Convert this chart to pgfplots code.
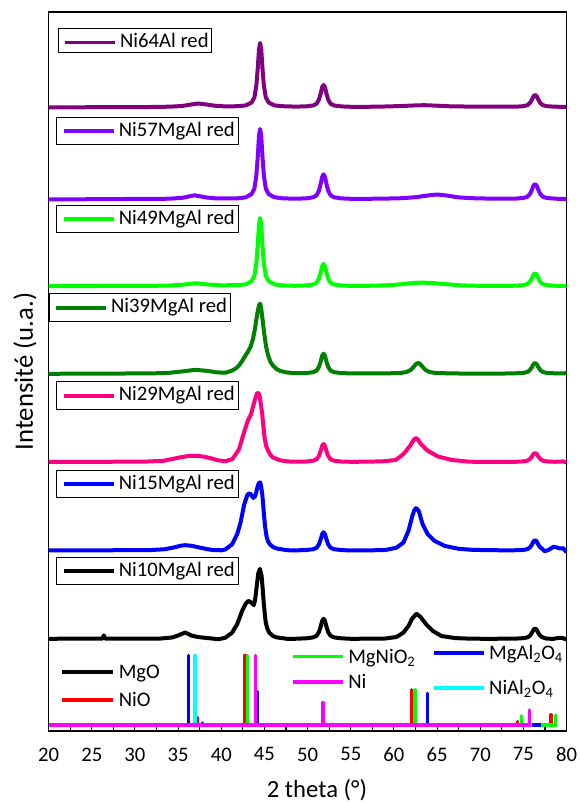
\documentclass[border=0pt]{standalone}
\usepackage{fontspec}
\setmainfont{Carlito}
\usepackage{pgfplots}
\pgfplotsset{compat=1.18}
\definecolor{cpurple}{RGB}{128,0,128}
\definecolor{cviolet}{RGB}{128,0,255}
\definecolor{clime}{RGB}{0,255,0}
\definecolor{cdgreen}{RGB}{0,128,0}
\definecolor{cpink}{RGB}{255,0,128}
\definecolor{cblue}{RGB}{0,0,255}
\definecolor{cred}{RGB}{255,0,0}
\definecolor{cmag}{RGB}{255,0,255}
\definecolor{ccyan}{RGB}{0,255,255}
\newcommand{\fs}{\fontsize{15.5}{18}\selectfont}
\newcommand{\lbox}[3]{\node[draw=black, line width=0.7pt, fill=white, anchor=north west, inner xsep=2.5pt, inner ysep=3.5pt, font=\fs] at (axis cs:#1) {\hspace{3pt}\textcolor{#2}{\rule[2.5pt]{37.5pt}{2.8pt}}\hspace{3.5pt}#3};}
\begin{document}
\begin{tikzpicture}
\begin{axis}[
  scale only axis, width=388.5pt, height=539.25pt,
  xmin=20, xmax=80, ymin=0, ymax=719,
  xtick={20,25,...,80}, minor x tick num=1,
  xtick pos=left, ytick=\empty,
  tick align=inside, major tick length=5pt, minor tick length=3pt,
  axis line style={line width=0.8pt}, every tick/.style={black, line width=0.8pt},
  /pgf/number format/assume math mode=true,
  ticklabel style={font=\fs}, xticklabel style={yshift=-9pt},
  xlabel={2 theta (°)}, ylabel={Intensité (u.a.)},
  xlabel style={font=\fontsize{18.5}{21}\selectfont, at={(axis description cs:0.5,0)}, anchor=center, yshift=-44.5pt, xshift=7pt},
  ylabel style={font=\fontsize{20}{23}\selectfont, at={(axis description cs:0,0.5)}, anchor=center, yshift=17.7pt},
  every axis plot/.append style={line width=3pt, line join=round},
]
% reference sticks
\addplot[black, line width=2.5pt] coordinates {(20,6)(42.73,6)(42.73,75.5)(42.73,6)(62.03,6)(62.03,41.1)(62.03,6)(74.3,6)(74.3,9.4)(74.3,6)(78.2,6)(78.2,16)(78.2,6)(78.4,6)};
\addplot[cred, line width=2.5pt] coordinates {(20,6)(37.25,6)(37.25,13.6)(37.25,6)(42.73,6)(42.73,75.5)(42.73,6)(62.03,6)(62.03,41.1)(62.03,6)(74.3,6)(74.3,9.4)(74.3,6)(78.2,6)(78.2,16)(78.2,6)(78.5,6)};
\addplot[clime, line width=2.5pt] coordinates {(20,6)(43.04,6)(43.04,75.5)(43.04,6)(62.43,6)(62.43,41.1)(62.43,6)(74.8,6)(74.8,15.3)(74.8,6)(78.7,6)(78.7,16)(78.7,6)(78.9,6)};
\addplot[cblue, line width=2.5pt] coordinates {(20,6)(36.2,6)(36.2,75.5)(36.2,6)(37.8,6)(37.8,8)(37.8,6)(44.2,6)(44.2,39.4)(44.2,6)(63.9,6)(63.9,37.7)(63.9,6)(77,6)};
\addplot[ccyan, line width=2.5pt] coordinates {(20,6)(36.96,6)(36.96,75.5)(36.96,6)(76,6)};
\addplot[cmag, line width=2.5pt] coordinates {(20,6)(43.96,6)(43.96,75.5)(43.96,6)(51.8,6)(51.8,28.4)(51.8,6)(75.7,6)(75.7,21.1)(75.7,6)(75.85,6)};
% Ni10MgAl
\addplot[black] coordinates {(20,92.2)(22,92.3)(24,92.3)(26,92.3)(26.25,92.5)(26.4,95.6)(26.55,92.5)(28,92.3)(31,92.3)(33,92.5)(34.3,93.5)(34.9,95.2)(35.4,97)(35.8,98.4)(36.2,97)(36.5,95.5)(37.3,94)(38.1,93.2)(39.7,91.8)(40.46,93.2)(41.26,98.4)(41.85,107)(42.45,120.8)(42.85,127.6)(43.13,130.1)(43.44,128.7)(43.76,125.9)(43.9,130)(44.04,139.7)(44.15,148)(44.27,156.9)(44.47,162.1)(44.67,155.2)(44.8,142)(44.91,129.4)(45.03,118)(45.15,108.7)(45.35,102)(45.55,98.4)(46.0,95)(46.42,93.6)(47.6,92.2)(48.5,92.2)
(49.83,92.7)(50.64,93.6)(51.04,95.2)(51.31,98.8)(51.51,104.2)(51.69,110.2)(51.85,112.2)(52.01,110.2)(52.19,104.2)(52.39,98.8)(52.66,95.2)(53.07,93.6)(53.88,92.7)
(55,92.2)(57,92.3)(59,92.5)(60.3,94)(61.1,98.4)(61.7,105.2)(62.1,112.2)(62.6,117.3)(63.1,113.9)(63.7,107)(64.5,100.1)(65.5,95)(67.1,92.9)(69,92.3)(71,92.2)(73,92.3)
(74.25,92.46)(75.09,92.9)(75.51,93.75)(75.79,95.6)(76.0,98.4)(76.18,101.5)(76.35,102.5)(76.52,101.5)(76.7,98.4)(76.91,95.6)(77.19,93.75)(77.7,92.3)(78.5,92.2)(79,93)(79.5,93)(80,91.5)};
% Ni15MgAl
\addplot[cblue] coordinates {(20,180.5)(23,180.6)(26,180.7)(29,180.8)(32,181)(33.5,181.8)(34.5,183.5)(35.3,185.3)(35.8,185.8)(36.5,185.3)(37.3,183.8)(38.1,182.3)(39,181)(40,180.7)(40.46,181.5)(41.26,186.7)(41.85,197)(42.25,209)(42.65,226.3)(43.04,236.6)(43.32,237.6)(43.55,235)(43.72,233.1)(43.9,234.5)(44.04,238.3)(44.2,244)(44.35,248)(44.51,248.6)(44.63,244)(44.75,236.6)(44.85,227)(44.95,216)(45.08,204)(45.23,195.3)(45.4,190)(45.63,186.7)(46.0,184)(46.42,182.5)(47.6,180.8)(48.5,180.6)
(49.83,180.95)(50.64,181.8)(51.04,183.2)(51.31,186.5)(51.51,191.4)(51.69,196.9)(51.85,198.7)(52.01,196.9)(52.19,191.4)(52.39,186.5)(52.66,183.2)(53.07,181.8)(53.88,180.95)
(55,180.5)(57,180.6)(59,181)(60.3,183.3)(61.1,188.4)(61.7,200.5)(62.1,214.2)(62.35,220.5)(62.55,222.8)(62.75,221.5)(62.9,219.4)(63.3,207.3)(63.9,197)(64.7,190.1)(65.9,185)(67.5,182.2)(69,181.2)(71,180.8)(73,180.7)
(74.25,180.76)(75.09,181.2)(75.51,182.05)(75.79,183.9)(76.0,186.7)(76.18,189.8)(76.35,190.8)(76.52,189.8)(76.7,186.7)(76.91,183.9)(77.19,182.05)(77.45,179.8)(77.9,181)(78.5,184.3)(78.9,183.5)(79.2,182.5)(79.6,182.8)(80,178.8)};
% Ni29MgAl
\addplot[cpink] coordinates {(20,269)(23,269.1)(26,269.2)(29,269.3)(31.5,269.5)(33.3,270.2)(34.2,271.8)(35.2,273.6)(36.2,275)(37.2,275.2)(38.1,274.2)(38.9,272.5)(39.6,270.7)(40.5,269.8)(41.3,272)(42.05,281.7)(42.65,299)(43.04,309.6)(43.44,316.5)(43.7,325)(43.95,333)(44.15,337.8)(44.3,338)(44.43,335.4)(44.6,326)(44.75,316.5)(44.9,303)(45.03,292.4)(45.2,285)(45.43,280.4)(45.7,276)(46.0,273.5)(46.8,270.7)(47.8,269.5)
(49.83,269.45)(50.64,270.3)(51.04,271.7)(51.31,274.9)(51.51,279.8)(51.69,285.2)(51.85,287)(52.01,285.2)(52.19,279.8)(52.39,274.9)(52.66,271.7)(53.07,270.3)(53.88,269.45)
(55,269.2)(57,269.3)(59,269.8)(60.2,271)(61.1,276.9)(61.9,285.5)(62.2,290)(62.5,293)(62.75,291.8)(63.1,287.2)(63.9,280.4)(65.1,274.5)(66.7,271)(68.7,269.3)(71,269)(73,269.2)
(74.1,269.2)(75.0,269.6)(75.45,270.35)(75.75,272)(75.98,274.4)(76.17,277.1)(76.35,278)(76.53,277.1)(76.73,274.4)(76.95,272)(77.25,270.35)(77.7,269.6)(78.6,269.2)(79.2,269.4)(79.6,269.6)(80,268.5)};
% Ni39MgAl
\addplot[cdgreen] coordinates {(20,357.2)(23,357.3)(26,357.4)(29,357.5)(32,357.6)(34,358.2)(35.5,359.6)(37,361.2)(38.5,360)(39.5,358.6)(40.5,358.3)(41.2,360.2)(41.7,362.6)(42.1,366)(42.45,370.5)(42.8,375.5)(43.1,379.5)(43.44,385)(43.7,393)(43.9,402)(44.1,413.5)(44.25,421)(44.4,426.5)(44.5,427.2)(44.6,424)(44.75,414)(44.9,403)(45.03,394)(45.2,384)(45.43,375.6)(45.7,369)(46.0,365.3)(46.4,362)(46.8,360.2)(47.5,358.6)(48.4,357.9)
(49.83,357.9)(50.64,358.8)(51.04,360.4)(51.31,364)(51.51,369.3)(51.69,375.3)(51.85,377.3)(52.01,375.3)(52.19,369.3)(52.39,364)(52.66,360.4)(53.07,358.8)(53.88,357.9)
(55,357.6)(57,357.6)(58.5,357.6)(59.5,357.7)(60.82,358.1)(61.48,359)(61.92,360.9)(62.25,363.8)(62.54,366.9)(62.8,368)(63.06,366.9)(63.35,363.8)(63.68,360.9)(64.12,359)(64.78,358.1)(66.1,357.7)(67.5,357.5)(69,357.4)(71,357.4)(73,357.5)
(74.1,357.7)(75.0,358.1)(75.45,359)(75.75,360.9)(75.98,363.8)(76.17,366.9)(76.35,368)(76.53,366.9)(76.73,363.8)(76.95,360.9)(77.25,359)(77.7,358.1)(78.6,357.7)(79.2,357.6)(80,357.8)};
% Ni49MgAl
\addplot[clime] coordinates {(20,444.8)(23,444.9)(26,445)(29,445)(32,445.1)(34,445.5)(35.5,446.3)(37,447.7)(38.5,446.5)(40,445.7)(41.5,445.8)(42.2,446.1)
(42.85,446.7)(43.51,449.8)(43.84,455.2)(44.06,467.4)(44.225,485.8)(44.368,506.2)(44.5,513)(44.632,506.2)(44.775,485.8)(44.94,467.4)(45.16,455.2)(45.49,449.8)(46.15,446.7)(47,445.6)(48.5,445.2)
(49.83,445.55)(50.64,446.5)(51.04,448.3)(51.31,452.3)(51.51,458.2)(51.69,464.8)(51.85,467)(52.01,464.8)(52.19,458.2)(52.39,452.3)(52.66,448.3)(53.07,446.5)(53.88,445.55)
(55,445.1)(57,445.2)(59,445.6)(60.5,446.5)(62,447.8)(63,448.4)(64.5,448)(66,446.8)(67.5,445.8)(69,445.3)(71,445.1)(73,445)
(74.1,445.3)(75.0,445.9)(75.45,446.9)(75.75,449.2)(75.98,452.6)(76.17,456.4)(76.35,457.7)(76.53,456.4)(76.73,452.6)(76.95,449.2)(77.25,446.9)(77.7,445.9)(78.6,445.3)(79.2,445.1)(80,445)};
% Ni57MgAl
\addplot[cviolet] coordinates {(20,531.5)(23,531.7)(26,531.8)(29,532)(32,532)(34,532.3)(35.5,533.2)(36.9,535.7)(38.3,533.5)(39.5,532.5)(41,532.5)(42.2,532.8)
(42.85,533.75)(43.51,536.9)(43.84,542.5)(44.06,555.1)(44.225,574)(44.368,595)(44.5,602)(44.632,595)(44.775,574)(44.94,555.1)(45.16,542.5)(45.49,536.9)(46.15,533.75)(47,532.7)(48.5,532.3)
(49.83,532.6)(50.64,533.7)(51.04,535.7)(51.31,540.2)(51.51,546.8)(51.69,554.2)(51.85,556.7)(52.01,554.2)(52.19,546.8)(52.39,540.2)(52.66,535.7)(53.07,533.7)(53.88,532.6)
(55,532.2)(57,532.2)(59,532.4)(61,532.8)(62.5,533.8)(64,535.6)(65,536.5)(66,535.6)(67.5,533.6)(69,532.8)(71,532.4)(73,532.3)
(74.1,532.4)(75.0,533.05)(75.45,534.25)(75.75,537)(75.98,541)(76.17,545.5)(76.35,547)(76.53,545.5)(76.73,541)(76.95,537)(77.25,534.25)(77.7,533.05)(78.6,532.4)(79.2,532.1)(80,532)};
% Ni64Al
\addplot[cpurple] coordinates {(20,623.5)(23,623.7)(26,623.8)(29,623.8)(32,624)(34,624.3)(35.5,625)(36.5,626.5)(37.3,627.5)(38.2,626.6)(39.3,625.2)(40.5,624.6)(42,624.8)
(42.85,625.6)(43.51,628.5)(43.84,633.6)(44.06,645.1)(44.225,662.4)(44.368,681.6)(44.5,688)(44.632,681.6)(44.775,662.4)(44.94,645.1)(45.16,633.6)(45.49,628.5)(46.15,625.6)(47,624.8)(48.5,624.4)
(49.83,624.6)(50.64,625.5)(51.04,627.3)(51.31,631.3)(51.51,637.2)(51.69,643.8)(51.85,646)(52.01,643.8)(52.19,637.2)(52.39,631.3)(52.66,627.3)(53.07,625.5)(53.88,624.6)
(55,624.2)(57,624.2)(59,624.5)(61,625)(62.5,625.6)(63.5,625.8)(65,625.3)(66.5,624.7)(68,624.5)(70,624.3)(72,624.3)
(74.1,624.3)(75.0,624.8)(75.45,625.8)(75.75,628)(75.98,631.2)(76.17,634.8)(76.35,636)(76.53,634.8)(76.73,631.2)(76.95,628)(77.25,625.8)(77.7,624.8)(78.6,624.3)(79.2,624.2)(80,624)};
% legend boxes
\lbox{21.05,702.7}{cpurple}{Ni64Al red}
\lbox{20.9,614}{cviolet}{Ni57MgAl red}
\lbox{20.9,526.2}{clime}{Ni49MgAl red}
\lbox{20.0,437.6}{cdgreen}{Ni39MgAl red}
\lbox{20.9,349.6}{cpink}{Ni29MgAl red}
\lbox{20.9,261.4}{cblue}{Ni15MgAl red}
\lbox{20.9,174}{black}{Ni10MgAl red}
% reference legend
\draw[black, line width=2.8pt] (axis cs:21.6,59.3) -- (axis cs:27.46,59.3);
\node[anchor=base west, inner sep=0pt, yshift=-5pt, font=\fs] at (axis cs:28.1,59.3) {MgO};
\draw[cred, line width=2.8pt] (axis cs:21.6,30.8) -- (axis cs:27.46,30.8);
\node[anchor=base west, inner sep=0pt, yshift=-5pt, font=\fs] at (axis cs:28.1,30.8) {NiO};
\draw[clime, line width=2.8pt] (axis cs:48.33,74.5) -- (axis cs:54.12,74.5);
\node[anchor=base west, inner sep=0pt, yshift=-5pt, font=\fs] at (axis cs:54.68,74.5) {MgNiO\textsubscript{2}};
\draw[cmag, line width=2.8pt] (axis cs:48.33,49) -- (axis cs:54.12,49);
\node[anchor=base west, inner sep=0pt, yshift=-5pt, font=\fs] at (axis cs:54.68,49) {Ni};
\draw[cblue, line width=2.8pt] (axis cs:64.64,78) -- (axis cs:70.43,78);
\node[anchor=base west, inner sep=0pt, yshift=-5pt, font=\fs] at (axis cs:71.0,78) {MgAl\textsubscript{2}O\textsubscript{4}};
\draw[ccyan, line width=2.8pt] (axis cs:64.64,42.8) -- (axis cs:70.43,42.8);
\node[anchor=base west, inner sep=0pt, yshift=-5pt, font=\fs] at (axis cs:71.0,42.8) {NiAl\textsubscript{2}O\textsubscript{4}};
\end{axis}
\pgfresetboundingbox
\path[use as bounding box] (-36.45pt,-54pt) rectangle (397.8pt,548.25pt);
\end{tikzpicture}
\end{document}
